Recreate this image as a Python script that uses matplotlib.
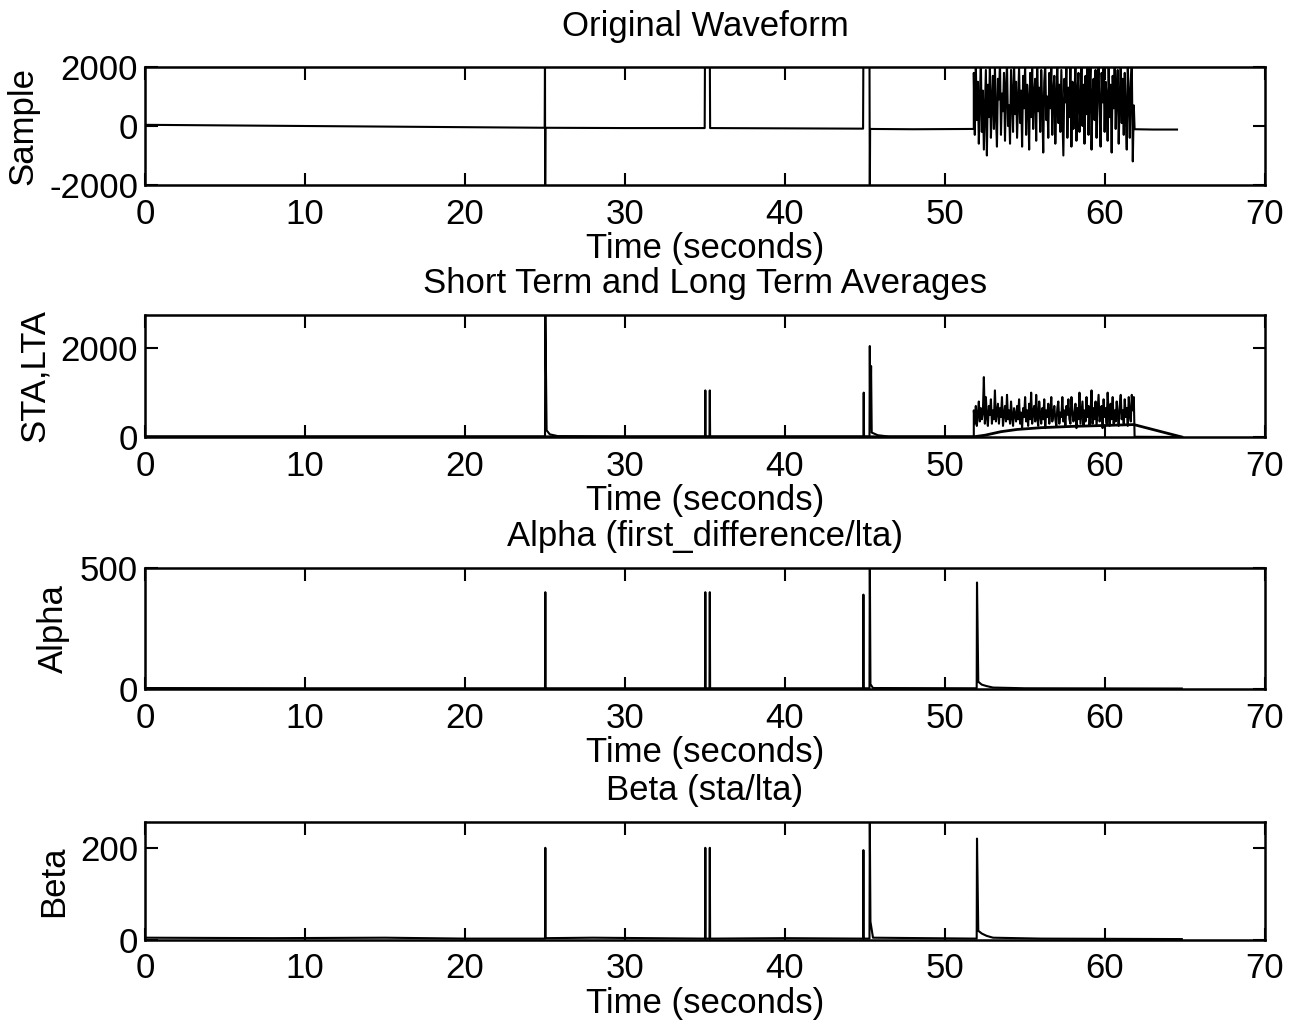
import numpy as np
import matplotlib.pyplot as plt

plt.rcParams['font.family'] = ['Liberation Sans', 'DejaVu Sans']
plt.rcParams['axes.unicode_minus'] = False

# --- original waveform (keyframes, seconds / counts) ---
wave_t = [0, 5, 10, 15, 20, 24.98, 25.0, 25.01, 25.03, 30, 34.98, 35.0, 35.3, 35.32,
          40, 44.88, 44.9, 45.28, 45.3, 45.32, 48, 51.8]
wave_v = [40, 20, 0, -20, -40, -60, 2600, -2600, -60, -70, -70, 2600, 2600, -70,
          -80, -90, 2600, 2600, -2600, -100, -110, -100]

burst_wave = [1800, -300, 2100, 200, 1500, -600, 900, 2200, -200, 1200,
              -800, 600, 1900, -1000, 1400, 300, 2100, -400, 800, 1700,
              -100, 2000, 400, -700, 1600, 900, 2200, -300, 1100, 500,
              1800, -500, 1300, 2100, 0, 700, -600, 1900, 1000, -200,
              2200, 400, 1500, -400, 800, 2000, 100, 1200, -700, 1700,
              600, 2100, -300, 1400, 900, -800, 1800, 300, 2000, -100,
              1100, 1600, -500, 2200, 500, 1300, -200, 1900, 700, -900,
              1500, 2100, 200, 1000, -400, 1800, 600, 2000, -300, 1200,
              1700, -600, 900, 2200, 100, 1400, -200, 1900, 500, -1000,
              1600, 800, 2100, -400, 1300, 300, 2000, -700, 1500, -100,
              900, 2200, -500, 1100, 1800, -200, 700, 2100, 0, 1400,
              -600, 1700, 400, 2000, -300, 1200, 2200, -800, 1000, 1600,
              200, 1900, -400, 1300, 2100, 500, -700, 1800, 800, 2200,
              -200, 1500, 1000, -500, 2000, 300, 1400, -900, 1700, 600,
              2100, -100, 1200, 1900, -600, 900, 2200, 100, 1600, -300,
              1800, 400, -800, 2000, 1100, -400, 1500, 2100, -1200, 700]

tail_t = [61.85, 63, 64.5]
tail_v = [-110, -120, -120]

# --- short term average ---
sta_t = [0, 10, 20, 25.0, 25.02, 25.1, 25.3, 25.8, 30, 35.0, 35.02, 35.04, 35.28, 35.3,
         35.32, 40, 44.9, 44.92, 44.94, 45.28, 45.3, 45.33, 45.38, 45.42, 45.8, 46.5, 51.8]
sta_v = [10, 10, 10, 10, 2900, 150, 60, 20, 10, 10, 1050, 10, 10, 1050,
         10, 10, 10, 1000, 10, 10, 2050, 200, 1600, 100, 40, 10, 10]

sta_burst = [600, 300, 700, 250, 500, 800, 350, 650, 400, 550,
             1350, 300, 900, 450, 250, 700, 500, 850, 300, 600,
             400, 1050, 350, 550, 750, 300, 650, 450, 900, 250,
             500, 700, 350, 950, 400, 600, 300, 800, 450, 250,
             650, 500, 350, 700, 400, 850, 300, 550, 200, 650,
             450, 900, 350, 600, 250, 750, 400, 1000, 300, 550,
             700, 350, 950, 450, 250, 800, 500, 300, 650, 400,
             850, 200, 600, 450, 750, 300, 550, 900, 350, 500,
             700, 400, 250, 650, 800, 300, 550, 450, 900, 350,
             600, 250, 700, 500, 850, 400, 300, 900, 600, 350,
             500, 750, 200, 650, 400, 1000, 300, 550, 800, 250,
             600, 350, 900, 450, 700, 250, 550, 1050, 300, 650,
             400, 800, 250, 600, 950, 350, 500, 700, 200, 850,
             450, 650, 300, 1000, 550, 250, 750, 400, 900, 300,
             600, 350, 800, 500, 250, 700, 950, 400, 600, 300,
             850, 450, 650, 250, 900, 500, 350, 950, 600, 900]

# --- long term average ---
lta_t = [0, 51.8, 52.5, 53.5, 54.5, 56, 58, 60, 61.8, 64.8]
lta_v = [5, 5, 40, 120, 170, 210, 240, 260, 280, 0]

# --- alpha (first difference / lta) ---
alpha_t = [0, 10, 20, 25.0, 25.02, 25.04, 35.0, 35.02, 35.04, 35.28, 35.3, 35.32,
           44.88, 44.9, 44.92, 45.28, 45.3, 45.34, 45.5, 51.98, 52.0, 52.08, 52.3, 52.6, 53, 55, 64.8]
alpha_v = [4, 3, 3, 3, 400, 3, 3, 400, 3, 3, 400, 3,
           3, 390, 3, 3, 560, 20, 4, 3, 440, 30, 18, 12, 6, 3, 2]

# --- beta (sta / lta) ---
beta_t = [0, 8, 15, 20, 25.0, 25.02, 25.04, 28, 35.0, 35.02, 35.04, 35.28, 35.3, 35.32,
          40, 44.88, 44.9, 44.92, 45.28, 45.3, 45.34, 45.5, 51.98, 52.0, 52.08, 52.3, 52.6, 53, 56, 64.8]
beta_v = [5, 4, 5, 3, 3, 200, 4, 5, 3, 200, 3, 3, 200, 3,
          4, 3, 195, 3, 3, 260, 40, 5, 3, 220, 20, 14, 9, 5, 3, 2]

xticks = [0, 10, 20, 30, 40, 50, 60, 70]

fig = plt.figure(figsize=(12.94, 10.30), dpi=100)
W, H = 1294, 1030
FS = 25


def make_ax(top, bottom):
    return fig.add_axes([145 / W, 1 - bottom / H, 1120 / W, (bottom - top) / H])


def style(ax, title, ylabel, ylim, yticks, tpad=16):
    ax.set_xlim(0, 70)
    ax.set_ylim(*ylim)
    ax.set_xticks(xticks)
    ax.set_yticks(yticks)
    ax.tick_params(direction='in', top=True, right=True, length=9, width=1.5,
                   labelsize=FS)
    ax.tick_params(axis='x', pad=9)
    ax.tick_params(axis='y', pad=5)
    for s in ax.spines.values():
        s.set_linewidth(1.8)
    ax.set_title(title, fontsize=FS, pad=tpad)
    ax.set_ylabel(ylabel, fontsize=FS, labelpad=7)
    ax.set_xlabel('Time (seconds)', fontsize=FS, labelpad=1)


lw = 1.5

ax1 = make_ax(67, 185)
bt = np.linspace(51.8, 61.8, len(burst_wave))
ax1.plot(wave_t + list(bt) + tail_t, wave_v + burst_wave + tail_v, color='black', lw=lw)
style(ax1, 'Original Waveform', 'Sample', (-2000, 2000), [-2000, 0, 2000], tpad=22)

ax2 = make_ax(315, 437)
st = np.linspace(51.8, 61.8, len(sta_burst))
ax2.plot(sta_t + list(st) + [61.85, 64.8], sta_v + sta_burst + [5, 0], color='black', lw=lw)
ax2.plot(lta_t, lta_v, color='black', lw=lw + 0.5)
style(ax2, 'Short Term and Long Term Averages', 'STA,LTA', (0, 2750), [0, 2000])

ax3 = make_ax(568, 689)
ax3.plot(alpha_t, alpha_v, color='black', lw=lw)
style(ax3, 'Alpha (first_difference/lta)', 'Alpha', (0, 500), [0, 500])

ax4 = make_ax(822, 940)
ax4.plot(beta_t, beta_v, color='black', lw=lw)
style(ax4, 'Beta (sta/lta)', 'Beta', (0, 256), [0, 200])

fig.savefig('out.png', dpi=100)
